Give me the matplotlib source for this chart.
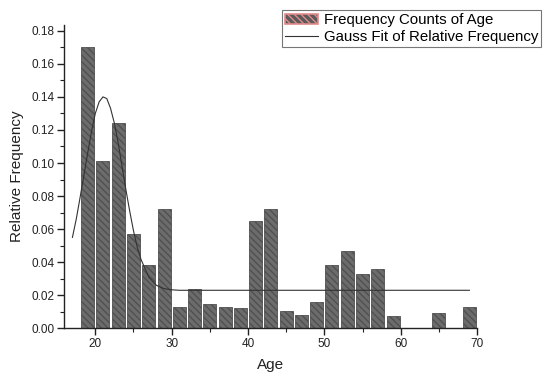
import matplotlib
matplotlib.use("Agg")
import matplotlib.pyplot as plt
from matplotlib.patches import Patch
from matplotlib.lines import Line2D
from matplotlib.ticker import MultipleLocator, FormatStrFormatter

plt.rcParams['font.family'] = ['Liberation Sans', 'DejaVu Sans']
plt.rcParams['hatch.linewidth'] = 1.0
plt.rcParams['hatch.color'] = '#2e2e2e'

# histogram bins (centres, width 2) and relative frequencies
bin_centers = [19, 21, 23, 25, 27, 29, 31, 33, 35, 37, 39, 41, 43, 45,
               47, 49, 51, 53, 55, 57, 59, 61, 63, 65, 67, 69]
rel_freq = [0.170, 0.101, 0.124, 0.057, 0.038, 0.072, 0.013, 0.024, 0.0145,
            0.013, 0.0125, 0.065, 0.072, 0.0107, 0.008, 0.016, 0.0385, 0.047,
            0.033, 0.036, 0.0074, 0.0, 0.0, 0.0094, 0.0, 0.013]

# gauss fit curve
fit_x = [17, 17.5, 18, 18.5, 19, 19.5, 20, 20.5, 21, 21.5, 22, 22.5, 23,
         23.5, 24, 24.5, 25, 25.5, 26, 27, 28, 29, 30, 31, 69]
fit_y = [0.055, 0.066, 0.079, 0.0925, 0.106, 0.119, 0.130, 0.137, 0.140,
         0.139, 0.133, 0.124, 0.112, 0.098, 0.084, 0.071, 0.059, 0.049,
         0.0415, 0.031, 0.026, 0.024, 0.0233, 0.023, 0.023]

fig = plt.figure(figsize=(5.5, 3.83), dpi=100)
ax = fig.add_axes([0.1164, 0.1428, 0.7509, 0.7920])

ax.bar(bin_centers, rel_freq, width=1.7, facecolor='#6c6c6c',
       edgecolor='#505050', linewidth=0.6, hatch='\\\\\\\\\\')
ax.plot(fit_x, fit_y, color='#333333', linewidth=0.8)

ax.set_xlim(15.9, 70)
ax.set_ylim(0, 0.1835)
ax.xaxis.set_major_locator(MultipleLocator(10))
ax.xaxis.set_minor_locator(MultipleLocator(5))
ax.yaxis.set_major_locator(MultipleLocator(0.02))
ax.yaxis.set_minor_locator(MultipleLocator(0.01))
ax.yaxis.set_major_formatter(FormatStrFormatter('%.2f'))

for s in ['top', 'right']:
    ax.spines[s].set_visible(False)
for s in ['left', 'bottom']:
    ax.spines[s].set_linewidth(1.0)
    ax.spines[s].set_color('#222222')

ax.tick_params(which='major', direction='out', length=5, width=1.0,
               labelsize=8.5, colors='#222222', pad=2)
ax.tick_params(which='minor', direction='out', length=3, width=0.8,
               colors='#222222')

ax.set_xlabel('Age', fontsize=11, color='#222222', labelpad=6)
ax.set_ylabel('Relative Frequency', fontsize=11, color='#222222', labelpad=5)

handles = [Patch(facecolor='#5a5a5a', edgecolor='#e08a8a', linewidth=1.2,
                 hatch='\\\\\\\\\\'),
           Line2D([0], [0], color='#333333', linewidth=0.8)]
labels = ['Frequency Counts of Age', 'Gauss Fit of Relative Frequency']
leg = fig.legend(handles, labels, loc='upper right',
                 bbox_to_anchor=(541 / 550, 1 - 10 / 383),
                 fontsize=10.8, frameon=True, fancybox=False,
                 borderpad=0.2, labelspacing=0.2, handlelength=2.2,
                 handletextpad=0.35, borderaxespad=0)
leg.get_frame().set_edgecolor('#555555')
leg.get_frame().set_linewidth(0.8)

fig.savefig('out.png', dpi=100)
